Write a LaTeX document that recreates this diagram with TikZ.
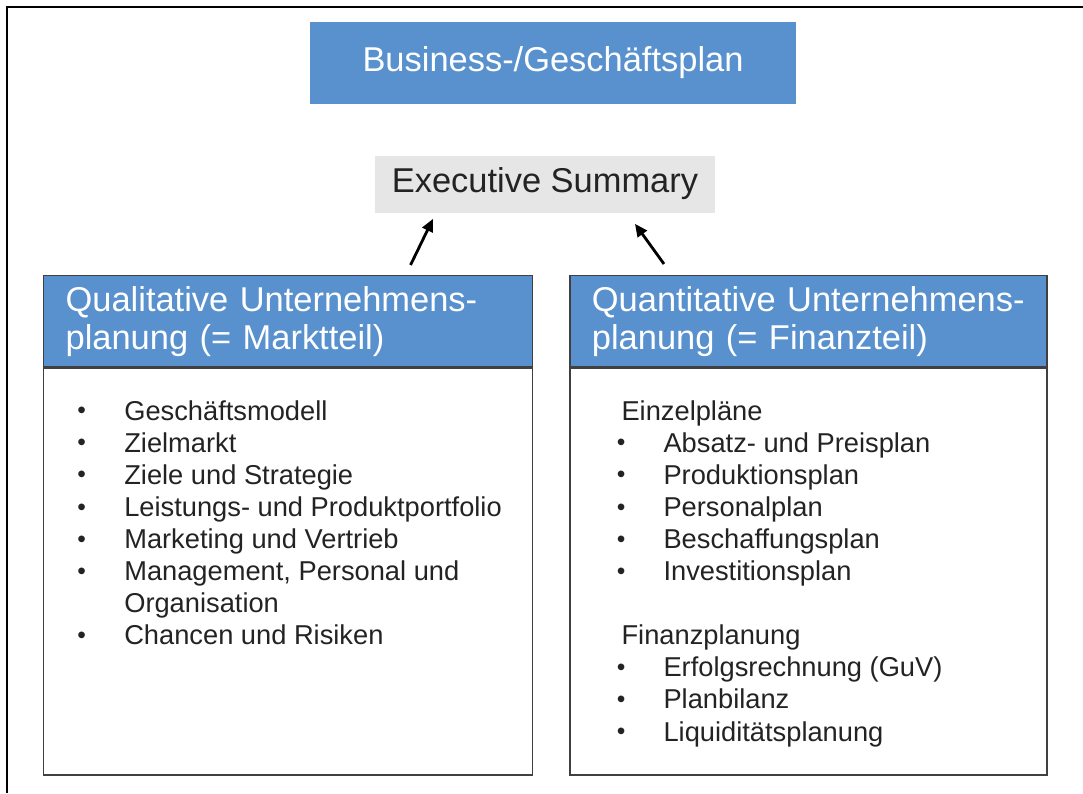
\documentclass[tikz,border=0pt]{standalone}
\usepackage{fontspec}
\usepackage{graphicx}
\setmainfont{Liberation Sans}
\usetikzlibrary{arrows.meta,positioning,calc}
\definecolor{planblue}{RGB}{88,145,206}
\definecolor{summgray}{RGB}{230,230,230}
\definecolor{textgray}{RGB}{35,35,35}
\newcommand{\bul}{\makebox[1.05cm][l]{\hspace{-0.12cm}\raisebox{0.06em}{\scalebox{0.9}{\textbullet}}}}
\newcommand{\ind}{\hspace*{1.05cm}}

\begin{document}
\begin{tikzpicture}[
    node distance=0.9cm and 0.9cm,
    plan/.style={rectangle, fill=planblue, text=white, minimum width=12.15cm, minimum height=2.05cm, font=\fontsize{24.5}{27}\selectfont},
    summary/.style={rectangle, fill=summgray, text=textgray, minimum width=8.5cm, minimum height=1.425cm, font=\fontsize{24.5}{27}\selectfont},
    head/.style={rectangle, draw=black!75, line width=0.9pt, fill=planblue, text=white, inner xsep=0.55cm, minimum height=2.275cm, align=left, font=\fontsize{24.5}{27}\selectfont},
    body/.style={rectangle, draw=black!75, line width=0.9pt, minimum height=10.175cm},
    items/.style={inner sep=0pt, align=left, text=textgray, font=\fontsize{19.4}{22.8}\selectfont},
    arr/.style={-{Triangle[length=9pt,width=8pt]}, line width=2pt}
  ]
    \useasboundingbox (0,0) rectangle (27.075,-19.825);
    % page frame, cut off on the right and at the bottom
    \draw[line width=1.4pt] (0.175,-19.825) -- (0.175,-0.175) -- (27.075,-0.175);

    \node[plan] (title) at (13.825,-1.575) {Business-/Geschäftsplan};
    \node[summary, below=1.275cm of title, xshift=-0.2cm] (exec) {Executive Summary};

    \node[head, text width=11.125cm, anchor=north west] (qualhead) at (1.075,-6.875) {Qualitative Unternehmens-\\planung (= Marktteil)};
    \node[head, text width=10.825cm, right=0.9cm of qualhead] (quanthead) {Quantitative Unternehmens-\\planung (= Finanzteil)};
    \node[body, minimum width=12.225cm, below=0pt of qualhead] (qualbody) {};
    \node[body, minimum width=11.925cm, below=0pt of quanthead] (quantbody) {};

    \node[items, below right=0.83cm and 0.975cm of qualbody.north west] (quallist) {%
      \bul Geschäftsmodell\\
      \bul Zielmarkt\\
      \bul Ziele und Strategie\\
      \bul Leistungs- und Produktportfolio\\
      \bul Marketing und Vertrieb\\
      \bul Management, Personal und\\
      \ind Organisation\\
      \bul Chancen und Risiken};
    \node[items, below right=0.83cm and 1.3cm of quantbody.north west] (quantlist) {%
      Einzelpläne\\
      \bul Absatz- und Preisplan\\
      \bul Produktionsplan\\
      \bul Personalplan\\
      \bul Beschaffungsplan\\
      \bul Investitionsplan\\[0.8cm]
      Finanzplanung\\
      \bul Erfolgsrechnung (GuV)\\
      \bul Planbilanz\\
      \bul Liquiditätsplanung};

    \draw[arr] ($(qualhead.north)+(3.06,0.25)$) -- ($(exec.south)+(-2.8,-0.15)$);
    \draw[arr] ($(quanthead.north)+(-3.61,0.275)$) -- ($(exec.south)+(2.25,-0.275)$);
  \end{tikzpicture}
\end{document}
